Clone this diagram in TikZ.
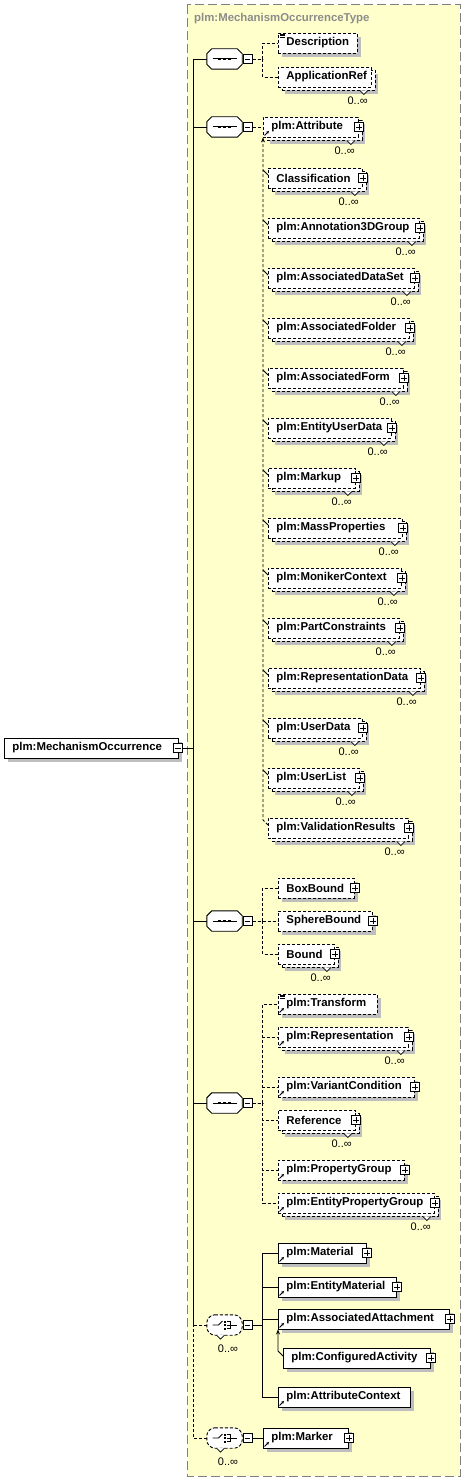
\documentclass[tikz,border=0pt]{standalone}
\usepackage{fontspec}
\setmainfont{Liberation Sans}
\usepackage{tikz}
\usetikzlibrary{arrows.meta,positioning,shadows,calc}
\definecolor{typefill}{RGB}{255,255,204}
\definecolor{typeframe}{RGB}{128,128,128}
\definecolor{shadowgray}{RGB}{190,190,190}
\definecolor{titlegray}{RGB}{140,140,140}
\hyphenpenalty=10000

\tikzset{
  elem/.style={draw, fill=white, line width=0.9pt, anchor=west, minimum height=20pt,
    inner xsep=8pt, inner ysep=0pt, align=left, font=\fontsize{11.4}{13}\selectfont\bfseries,
    general shadow={shadow xshift=4pt, shadow yshift=-4pt, fill=shadowgray, draw=none}},
  optel/.style={dash pattern=on 3pt off 2pt},
  multi/.style={general shadow={shadow xshift=7pt, shadow yshift=-7pt, fill=shadowgray, draw=none},
    general shadow={shadow xshift=4pt, shadow yshift=-3pt, fill=white, draw=black, dash pattern=on 3pt off 2pt}},
  occ/.style={inner sep=0pt, anchor=east, font=\fontsize{11}{13}\selectfont},
  minusbox/.style={draw, fill=white, solid, line width=0.8pt, minimum size=9pt, inner sep=0pt,
    path picture={\draw[line width=0.8pt] ([xshift=1.8pt]path picture bounding box.west) -- ([xshift=-1.8pt]path picture bounding box.east);}},
  plusbox/.style={minusbox,
    append after command={[line width=0.8pt] ([yshift=-1.8pt]\tikzlastnode.north) edge ([yshift=1.8pt]\tikzlastnode.south)}},
  compbox/.style={minimum width=35pt, minimum height=20pt, inner sep=0pt},
  octo/.style={line width=0.9pt, fill=white, draw=black},
  seqline/.style={solid},
  choiceline/.style={dash pattern=on 3pt off 2pt, rounded corners=3pt},
  conn/.style={line width=0.9pt},
  optconn/.style={conn, dash pattern=on 3pt off 2pt},
  refarrow/.style={line width=0.9pt, -{Stealth[length=3pt,width=3pt]}},
  subst/.style={optconn, -{Stealth[length=5pt,width=4pt]}},
  title/.style={anchor=west, inner sep=0pt, text=titlegray, font=\fontsize{11.4}{13}\selectfont\bfseries}
}

\begin{document}
\begin{tikzpicture}[x=1pt, y=-1pt]
\useasboundingbox (0,0) rectangle (469,1482);
% complex type frame
\fill[typefill] (187,5) rectangle (460,1476);
\draw[typeframe, line width=1pt, dash pattern=on 9pt off 4pt] (187,5) rectangle (460,1476);
\node[title] (ttl) at (194,19) {plm:MechanismOccurrenceType};

% root element
\node[elem, text width=158pt] (root) at (4,748) {plm:MechanismOccurrence};
\node[minusbox] (root-m) at ([xshift=-1pt]root.east) {};
\coordinate (trunk) at (193,748);

% compositors
\node[compbox] (s1) at (224.5,59) {};
\node[compbox] (s2) at (224.5,127) {};
\node[compbox] (s3) at (224.5,921) {};
\node[compbox] (s4) at (224.5,1103) {};
\node[compbox] (ch1) at (224.5,1325) {};
\node[compbox] (ch2) at (224.5,1438) {};
\foreach \c/\opt in {s1/seqline,s2/seqline,s3/seqline,s4/seqline,ch1/choiceline,ch2/choiceline} {
  \fill[shadowgray, shift={(4pt,-4pt)}] ([xshift=5pt]\c.north west) -- ([xshift=-5pt]\c.north east)
    -- ([yshift=-5pt]\c.north east) -- ([yshift=5pt]\c.south east) -- ([xshift=-5pt]\c.south east)
    -- ([xshift=5pt]\c.south west) -- ([yshift=5pt]\c.south west) -- ([yshift=-5pt]\c.north west) -- cycle;
  \filldraw[octo, \opt] ([xshift=5pt]\c.north west) -- ([xshift=-5pt]\c.north east)
    -- ([yshift=-5pt]\c.north east) -- ([yshift=5pt]\c.south east) -- ([xshift=-5pt]\c.south east)
    -- ([xshift=5pt]\c.south west) -- ([yshift=5pt]\c.south west) -- ([yshift=-5pt]\c.north west) -- cycle;
  \node[minusbox, right=0.5pt of \c] (\c-m) {};
  \coordinate[right=10pt of \c-m] (\c-j);
}
\foreach \c in {s1,s2,s3,s4} {
  \draw[line width=1pt] ([xshift=-12pt]\c.center) -- ([xshift=12pt]\c.center);
  \foreach \dx in {-5,0,5}
    \fill ([xshift=\dx pt]\c.center) ++(-1.6pt,-1.4pt) rectangle ++(3.2pt,2.8pt);
}
\foreach \c in {ch1,ch2} {
  \draw[line width=0.9pt] ([xshift=-12pt]\c.center) -- ([xshift=-6pt]\c.center) -- ([shift={(-2pt,4pt)}]\c.center);
  \foreach \dy in {-3.5,0,3.5}
    \fill ([yshift=\dy pt]\c.center) ++(-1pt,-1pt) rectangle ++(2pt,2pt);
  \draw[line width=0.9pt] ([shift={(2pt,3.5pt)}]\c.center) -| ([shift={(6pt,-3.5pt)}]\c.center) -- ([shift={(2pt,-3.5pt)}]\c.center)
    ([shift={(2pt,0pt)}]\c.center) -- ([shift={(12pt,0pt)}]\c.center);
  \fill[white] ([shift={(-8pt,-10pt)}]\c.center) -- ++(4pt,-4pt) -- ++(4pt,4pt) -- cycle;
  \draw[line width=0.7pt] ([shift={(-8pt,-10pt)}]\c.center) -- ++(4pt,-4pt) -- ++(4pt,4pt);
  \node[occ, anchor=center] (\c-o) at ([shift={(3.5pt,-23.5pt)}]\c.center) {0..∞};
}

% first sequence
\node[elem, optel, text width=63pt] (desc) at (278,43) {Description};
\node[elem, optel, multi, text width=77pt] (appref) at (278,77) {ApplicationRef};

% second sequence, attribute substitution group
\node[elem, optel, multi, text width=79pt] (attr) at (263,127) {plm:Attribute};
\foreach \n/\lab/\r [count=\i from 0] in {cls/Classification/362, a3d/plm:Annotation3DGroup/419,
    adset/plm:AssociatedDataSet/414, afold/plm:AssociatedFolder/409, aform/plm:AssociatedForm/403,
    eud/plm:EntityUserData/391, mkup/plm:Markup/355, massp/plm:MassProperties/402,
    monik/plm:MonikerContext/401, partc/plm:PartConstraints/399, repd/plm:RepresentationData/420,
    udata/plm:UserData/362, ulist/plm:UserList/359, valres/plm:ValidationResults/408} {
  \pgfmathsetmacro\tw{\r-284}
  \node[elem, optel, multi, text width=\tw pt] (\n) at (268,178+50*\i) {\lab};
}

% bounds
\node[elem, optel, text width=60pt] (boxb) at (278,888) {BoxBound};
\node[elem, optel, text width=78pt] (sphb) at (278,921) {SphereBound};
\node[elem, optel, multi, text width=40pt] (bound) at (278,954) {Bound};

% fourth sequence
\node[elem, optel, text width=83pt] (transf) at (278,1004) {plm:Transform};
\node[elem, optel, multi, text width=114pt] (repr) at (278,1037) {plm:Representation};
\node[elem, optel, text width=120pt] (varc) at (278,1087) {plm:VariantCondition};
\node[elem, optel, multi, text width=61pt] (refer) at (278,1120) {Reference};
\node[elem, optel, text width=110pt] (propg) at (278,1170) {plm:PropertyGroup};
\node[elem, optel, multi, text width=140pt] (epropg) at (278,1203) {plm:EntityPropertyGroup};

% choices
\node[elem, text width=72pt] (mat) at (278,1253) {plm:Material};
\node[elem, text width=102pt] (emat) at (278,1287) {plm:EntityMaterial};
\node[elem, text width=155pt] (aatt) at (278,1319) {plm:AssociatedAttachment};
\node[elem, text width=131pt] (cact) at (283,1358) {plm:ConfiguredActivity};
\node[elem, text width=116pt] (attc) at (278,1397) {plm:AttributeContext};
\node[elem, text width=69pt] (marker) at (263,1438) {plm:Marker};

% multiplicity marks
\foreach \n in {appref,attr,cls,a3d,adset,afold,aform,eud,mkup,massp,monik,partc,repd,udata,ulist,valres,bound,repr,refer,epropg} {
  \fill[white] ([shift={(-12pt,-3pt)}]\n.south east) -- ++(4pt,-4pt) -- ++(4pt,4pt) -- cycle;
  \draw[line width=0.7pt] ([shift={(-12pt,-3pt)}]\n.south east) -- ++(4pt,-4pt) -- ++(4pt,4pt);
  \node[occ] (\n-o) at ([shift={(-4pt,-13pt)}]\n.south east) {0..∞};
}
\foreach \n in {attr,cls,a3d,adset,afold,aform,eud,mkup,massp,monik,partc,repd,udata,ulist,valres,
    boxb,sphb,bound,repr,varc,refer,propg,epropg,mat,emat,aatt,cact,marker}
  \node[plusbox] (\n-p) at (\n.east) {};
\foreach \n in {attr,transf,repr,varc,propg,epropg,mat,emat,aatt,attc,marker}
  \draw[refarrow] ([shift={(1.5pt,2pt)}]\n.south west) -- ++(4.5pt,4.5pt);
\foreach \n in {desc,transf}
  \foreach \k in {1.5,3,4.5}
    \draw[line width=0.6pt] ([shift={(2pt,-\k pt)}]\n.north west) -- ++(5pt,0pt);

% connectors
\draw[conn] (root-m.east) -- (trunk);
\foreach \c in {s1,s2,s3,s4}
  \draw[conn] (\c.west) -| (trunk);
\foreach \c in {ch1,ch2}
  \draw[optconn] (\c.west) -| (trunk |- s4.west);
\foreach \n in {desc,appref}
  \draw[optconn] (s1-m.east) -- (s1-j) |- (\n.west);
\draw[optconn] (s2-m.east) -- (attr.west);
\draw[subst] ([yshift=3pt]valres.west) -- ++(-5pt,5pt) -- (attr.south west);
\foreach \n in {cls,a3d,adset,afold,aform,eud,mkup,massp,monik,partc,repd,udata,ulist}
  \draw[conn] ([yshift=3pt]\n.west) -- ++(-5pt,5pt);
\foreach \n in {boxb,sphb,bound}
  \draw[optconn] (s3-m.east) -- (s3-j) |- (\n.west);
\foreach \n in {transf,repr,varc,refer,propg,epropg}
  \draw[optconn] (s4-m.east) -- (s4-j) |- (\n.west);
\foreach \n in {mat,emat,aatt,attc}
  \draw[conn] (ch1-m.east) -- (ch1-j) |- (\n.west);
\draw[conn, -{Stealth[length=5pt,width=4pt]}] ([yshift=2pt]cact.west) -- ++(-5pt,5pt) -- (aatt.south west);
\draw[conn] (ch2-m.east) -- (marker.west);
\end{tikzpicture}
\end{document}
